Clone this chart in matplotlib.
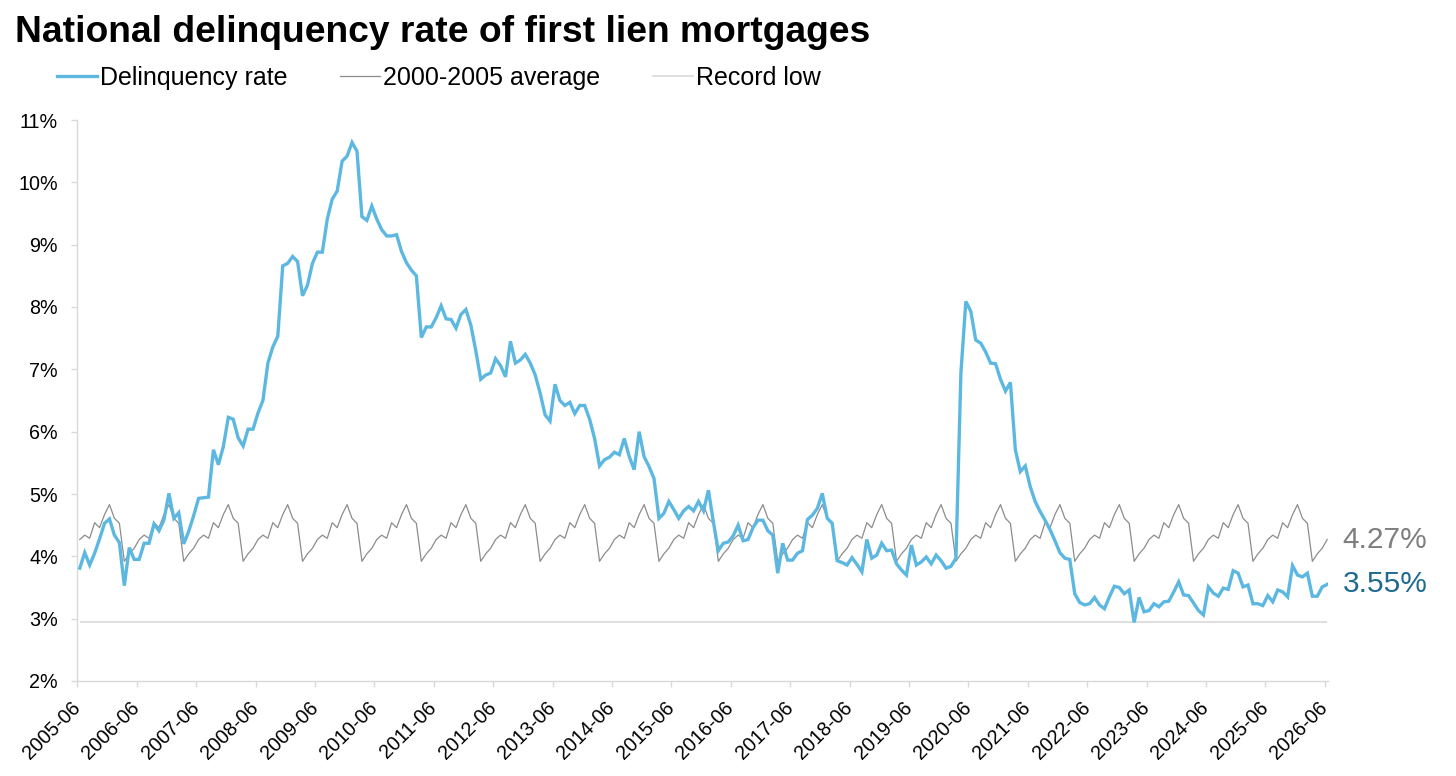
import numpy as np
import matplotlib
matplotlib.use("Agg")
import matplotlib.pyplot as plt
from matplotlib.ticker import FixedLocator, FuncFormatter

plt.rcParams['font.family'] = ['Liberation Sans', 'DejaVu Sans']

# ---------------- data ----------------
title = "National delinquency rate of first lien mortgages"

# Monthly national delinquency rate (%), starting 2005-06
delinquency_rate = [
    3.81, 4.06, 3.86, 4.05, 4.28, 4.53, 4.60, 4.34, 4.22, 3.53, 4.14, 3.95,
    3.95, 4.21, 4.21, 4.52, 4.41, 4.58, 5.01, 4.61, 4.70, 4.20, 4.40, 4.65,
    4.93, 4.94, 4.95, 5.71, 5.47, 5.76, 6.23, 6.20, 5.90, 5.77, 6.04, 6.04,
    6.30, 6.50, 7.10, 7.36, 7.53, 8.66, 8.70, 8.81, 8.73, 8.18, 8.35, 8.70,
    8.88, 8.88, 9.41, 9.73, 9.86, 10.34, 10.42, 10.64, 10.50, 9.45, 9.39, 9.62,
    9.41, 9.24, 9.14, 9.14, 9.16, 8.89, 8.71, 8.59, 8.50, 7.51, 7.68, 7.68,
    7.83, 8.02, 7.81, 7.80, 7.66, 7.88, 7.96, 7.71, 7.30, 6.84, 6.91, 6.94,
    7.17, 7.06, 6.88, 7.45, 7.10, 7.15, 7.24, 7.10, 6.91, 6.62, 6.27, 6.17,
    6.76, 6.50, 6.42, 6.47, 6.29, 6.42, 6.42, 6.20, 5.89, 5.45, 5.55, 5.59,
    5.67, 5.63, 5.89, 5.60, 5.39, 6.00, 5.60, 5.44, 5.25, 4.61, 4.69, 4.88,
    4.75, 4.61, 4.73, 4.80, 4.73, 4.88, 4.73, 5.06, 4.55, 4.09, 4.21, 4.23,
    4.33, 4.50, 4.25, 4.27, 4.46, 4.58, 4.58, 4.41, 4.34, 3.73, 4.21, 3.94,
    3.94, 4.05, 4.09, 4.59, 4.66, 4.77, 5.01, 4.61, 4.53, 3.93, 3.90, 3.86,
    3.98, 3.87, 3.75, 4.27, 3.97, 4.02, 4.21, 4.09, 4.10, 3.88, 3.78, 3.70,
    4.18, 3.86, 3.91, 3.99, 3.88, 4.02, 3.93, 3.81, 3.84, 3.97, 6.94, 8.09,
    7.93, 7.47, 7.42, 7.28, 7.10, 7.09, 6.84, 6.65, 6.79, 5.71, 5.36, 5.45,
    5.12, 4.88, 4.72, 4.58, 4.43, 4.25, 4.06, 3.97, 3.95, 3.40, 3.26, 3.22,
    3.24, 3.34, 3.22, 3.16, 3.35, 3.52, 3.50, 3.40, 3.46, 2.94, 3.34, 3.11,
    3.13, 3.24, 3.19, 3.27, 3.28, 3.43, 3.59, 3.38, 3.37, 3.25, 3.13, 3.06,
    3.51, 3.41, 3.36, 3.49, 3.47, 3.77, 3.73, 3.51, 3.54, 3.24, 3.24, 3.21,
    3.37, 3.27, 3.46, 3.43, 3.35, 3.85, 3.70, 3.67, 3.73, 3.36, 3.36, 3.51,
    3.55,
]

# 2000-2005 average by calendar month, June through May
avg_2000_2005_jun_to_may = [4.27, 4.34, 4.29, 4.54, 4.46, 4.67,
                            4.83, 4.61, 4.53, 3.92, 4.04, 4.13]

record_low = 2.94

y_ticks = [2, 3, 4, 5, 6, 7, 8, 9, 10, 11]
x_tick_labels = [f"{y}-06" for y in range(2005, 2027)]

# ---------------- colours ----------------
c_blue = "#5cb8e0"
c_gray = "#8c8c8c"
c_low = "#d9d9d9"
c_axis = "#d9d9d9"
c_label_blue = "#1f6a8f"
c_label_gray = "#7f7f7f"

# ---------------- figure ----------------
W, H = 1456, 776
fig = plt.figure(figsize=(W / 100, H / 100), dpi=100)
ax = fig.add_axes([77.3 / W, (H - 681) / H, (1327.7 - 77.3) / W, (681 - 120) / H])

n = len(delinquency_rate)
x = np.arange(n)
avg_series = np.resize(np.array(avg_2000_2005_jun_to_may), n)

ax.hlines(record_low, x[0], x[-1], color=c_low, lw=1.2, zorder=1)
l_avg, = ax.plot(x, avg_series, color=c_gray, lw=0.9, zorder=2,
                 label="2000-2005 average")
l_rate, = ax.plot(x, delinquency_rate, color=c_blue, lw=2.4, zorder=3,
                  label="Delinquency rate", solid_joinstyle='miter')
l_low = plt.Line2D([], [], color=c_low, lw=1.2, label="Record low")

ax.set_xlim(-0.5, n - 1 + 0.1)
ax.set_ylim(y_ticks[0], y_ticks[-1])

ax.yaxis.set_major_locator(FixedLocator(y_ticks))
ax.yaxis.set_major_formatter(FuncFormatter(lambda v, p: f"{v:.0f}%"))
xt = [-0.5 + 12 * j for j in range(len(x_tick_labels))]
ax.set_xticks(xt)
ax.set_xticklabels(x_tick_labels, rotation=45, ha='right', va='center',
                   rotation_mode='anchor')

for s in ['top', 'right']:
    ax.spines[s].set_visible(False)
for s in ['left', 'bottom']:
    ax.spines[s].set_color(c_axis)
    ax.spines[s].set_linewidth(1.0)

ax.tick_params(axis='y', length=4, width=1, color=c_axis, labelsize=14.2,
               labelcolor='black', pad=10)
ax.tick_params(axis='x', length=4, width=1, color=c_axis, labelsize=14.2,
               labelcolor='black', pad=13)

# end labels
ax.annotate(f"{avg_series[-1]:.2f}%", xy=(x[-1], avg_series[-1]),
            xytext=(11, 0), textcoords='offset points', va='center', ha='left',
            fontsize=21.5, color=c_label_gray, annotation_clip=False)
ax.annotate(f"{delinquency_rate[-1]:.2f}%", xy=(x[-1], delinquency_rate[-1]),
            xytext=(11, 0), textcoords='offset points', va='center', ha='left',
            fontsize=21.5, color=c_label_blue, annotation_clip=False)

# title
fig.text(15 / W, 1 - 32 / H, title, fontsize=26.8, fontweight='bold',
         ha='left', va='center', color='black')

# legend
leg = fig.legend(handles=[l_rate, l_avg, l_low], loc='center left',
                 bbox_to_anchor=(57 / W, 1 - 78 / H), ncol=3, frameon=False,
                 fontsize=18, handlelength=1.6, handletextpad=0.12,
                 columnspacing=2.1, borderpad=0, borderaxespad=0)

fig.savefig("out.png", dpi=100)
